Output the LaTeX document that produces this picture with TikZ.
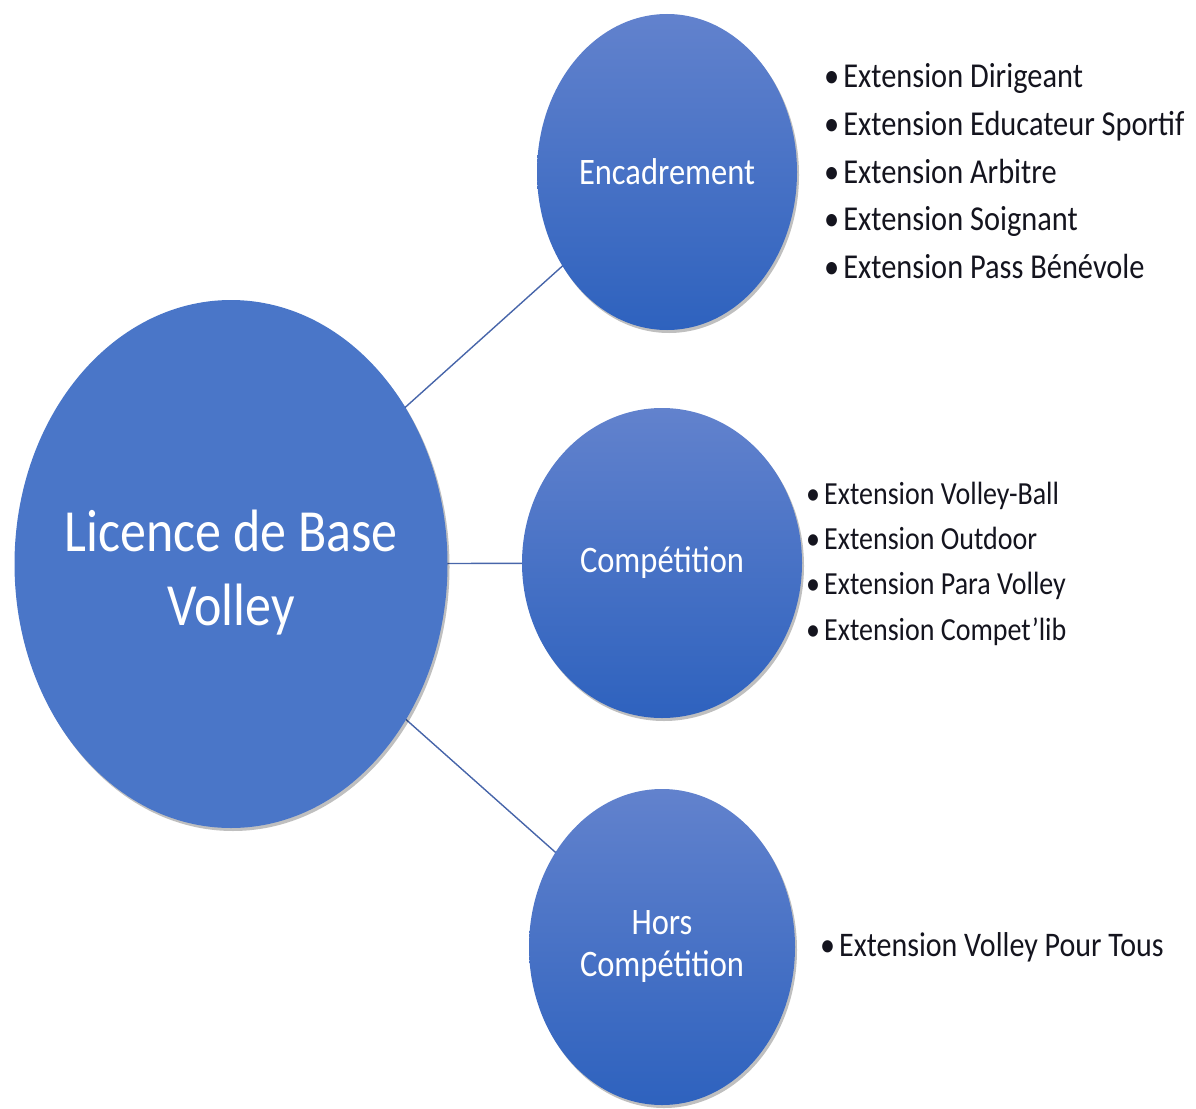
\documentclass[tikz,border=0pt]{standalone}
\usepackage{fontspec}
\usepackage{graphicx}
\setmainfont{Carlito}
\usetikzlibrary{shapes.geometric,shadows}
\definecolor{bigblue}{RGB}{74,118,200}
\definecolor{topblue}{RGB}{98,130,205}
\definecolor{botblue}{RGB}{46,98,190}
\definecolor{linkblue}{RGB}{72,102,170}
\definecolor{itemtext}{RGB}{20,20,30}
\newcommand{\tallt}[1]{\scalebox{1}[1.15]{#1}}
\begin{document}
\begin{tikzpicture}[x=1pt,y=-1pt,
  bubble/.style={ellipse, inner sep=0pt, outer sep=0pt, top color=topblue, bottom color=botblue,
    drop shadow={shadow xshift=2pt, shadow yshift=-3pt, opacity=0.25, fill=black},
    text=white, align=center, font=\fontsize{32.5}{42}\selectfont},
  bigbubble/.style={ellipse, inner xsep=-60pt, inner ysep=0pt, outer sep=0pt, fill=bigblue,
    drop shadow={shadow xshift=2pt, shadow yshift=-3pt, opacity=0.25, fill=black},
    text=white, align=center, font=\fontsize{52}{74}\selectfont},
  link/.style={draw=linkblue, line width=1.4pt},
  itemA/.style={anchor=base west, text=itemtext, inner sep=0pt, font=\fontsize{30.4}{36}\selectfont},
  itemB/.style={anchor=base west, text=itemtext, inner sep=0pt, font=\fontsize{28}{34}\selectfont},
  itemC/.style={anchor=base west, text=itemtext, inner sep=0pt, font=\fontsize{30}{36}\selectfont}]
\useasboundingbox (0,0) rectangle (1196,1108);
% connectors (drawn first, under the bubbles)
\coordinate (cbig) at (231,564);
\coordinate (cenc) at (667,172);
\coordinate (ccomp) at (662,563);
\coordinate (chors) at (662,947);
\draw[link] (cbig) -- (cenc);
\draw[link] (cbig) -- (ccomp);
\draw[link] (cbig) -- (chors);
% bubbles
\node[bigbubble, minimum width=433pt, minimum height=528pt] (big) at (cbig) {\rule{0pt}{58pt}\tallt{Licence de Base}\\\tallt{Volley}};
\node[bubble, minimum width=260pt, minimum height=316pt] (enc) at (cenc) {\tallt{Encadrement}};
\node[bubble, minimum width=280pt, minimum height=310pt] (comp) at (ccomp) {\tallt{Compétition}};
\node[bubble, minimum width=266pt, minimum height=316pt] (hors) at (chors) {\tallt{Hors}\\\tallt{Compétition}};
% lists
\node[itemA] (e1) at (824,88) {\tallt{•\hspace{4pt}Extension Dirigeant}};
\node[itemA] (e2) at (824,135.5) {\tallt{•\hspace{4pt}Extension Educateur Sportif}};
\node[itemA] (e3) at (824,183) {\tallt{•\hspace{4pt}Extension Arbitre}};
\node[itemA] (e4) at (824,230.5) {\tallt{•\hspace{4pt}Extension Soignant}};
\node[itemA] (e5) at (824,278) {\tallt{•\hspace{4pt}Extension Pass Bénévole}};
\node[itemB] (c1) at (806,504) {\tallt{•\hspace{4pt}Extension Volley-Ball}};
\node[itemB] (c2) at (806,549) {\tallt{•\hspace{4pt}Extension Outdoor}};
\node[itemB] (c3) at (806,594) {\tallt{•\hspace{4pt}Extension Para Volley}};
\node[itemB] (c4) at (806,640) {\tallt{•\hspace{4pt}Extension Compet’lib}};
\node[itemC] (h1) at (820,956) {\tallt{•\hspace{4pt}Extension Volley Pour Tous}};
\end{tikzpicture}
\end{document}
